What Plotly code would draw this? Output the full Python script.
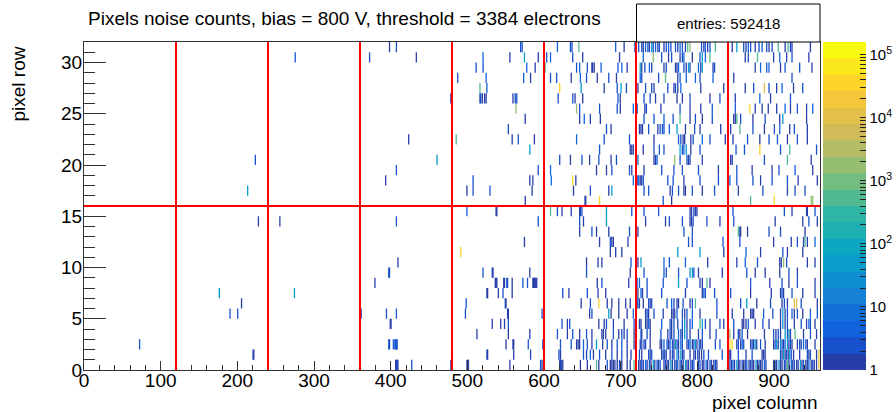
import numpy as np
import plotly.graph_objects as go

# ---------------- data ----------------
title_text = "Pixels noise counts, bias = 800 V, threshold = 3384 electrons"
entries_total = 592418
n_columns = 960
n_rows = 32
x_tick_step = 100
y_tick_step = 5
sector_edges_x = [120, 240, 360, 480, 600, 720, 840]
sector_edges_y = [16]
z_max = 1.6e5
cbar_major = [1, 10, 100, 1000, 10000, 100000]
cbar_labels = ["1", "10", "10<sup>2</sup>", "10<sup>3</sup>", "10<sup>4</sup>", "10<sup>5</sup>"]

# hit pixels per row: (column, counts)
row_31 = [(398,1),(407,2),(569,2),(571,2),(600,1),(617,5),(634,2),(636,2),(645,400),(693,5),(704,1),(718,5),(723,2),(727,2),(729,1),(732,5),(735,2),(737,1),(740,50),(742,2),(745,5),(748,1),(750,2),(756,1),(759,2),(762,5),(765,2),(771,2),(774,1),(777,5),(780,2),(784,1),(787,400),(790,2000),(805,2),(808,1),(810,5),(813,1),(816,2),(823,400),(845,1),(851,50),(860,2),(863,1),(866,5),(869,2),(875,1),(880,2),(884,5),(890,2),(893,1),(897,2),(905,400),(914,1),(918,400),(921,2),(923,1),(947,1)]
row_30 = [(275,2),(372,2),(433,1),(520,5),(555,1),(574,50),(592,1),(603,2),(608,5),(637,2),(650,1),(698,1),(720,1),(729,5),(742,2000),(753,2),(762,1),(766,2),(777,1),(780,2),(782,5),(793,1),(803,2),(806,50),(810,5),(816,400),(862,1),(866,2),(878,400),(899,1),(907,5),(916,1),(923,2),(945,1)]
row_29 = [(511,2),(520,2),(577,5),(588,1),(601,400),(642,2),(646,5),(656,2),(662,1),(663,1),(665,1),(674,5),(696,2),(701,5),(708,1),(725,50),(727,1),(731,2),(737,5),(740,1),(756,1),(759,2),(771,1),(773,1),(775,5),(782,2),(785,1),(788,50),(790,2),(801,5),(804,1),(806,50),(820,1),(822,2),(875,1),(882,5),(890,2),(893,5),(908,1),(914,2),(933,2),(949,1)]
row_28 = [(487,2),(524,5),(573,5),(582,1),(608,2),(616,2),(635,1),(647,5),(655,2),(669,1),(684,2),(694,1),(719,2),(725,5),(727,2),(749,2),(758,400),(774,1),(777,2),(785,5),(797,5),(803,2),(820,5),(847,1),(923,2)]
row_27 = [(516,400),(525,5),(620,30000),(648,50),(678,1),(695,2),(700,50),(707,2),(722,1),(732,2),(740,2),(743,1),(761,2),(769,1),(771,2),(774,1),(778,5),(804,1),(834,1),(862,1),(873,2),(887,8000),(893,2),(903,1),(910,5),(925,1),(937,2)]
row_26 = [(478,1),(516,1),(517,2),(519,1),(522,1),(524,1),(559,1),(562,2),(564,2),(618,2),(637,2),(640,1),(650,1),(696,2),(699,1),(719,1),(730,2),(738,2),(745,1),(756,2),(773,1),(780,1),(790,2),(816,1),(829,2),(849,1),(881,5),(895,1),(921,2)]
row_25 = [(563,2000),(642,2000),(646,2),(672,2),(695,2),(699,1),(716,5),(721,2),(731,1),(733,2),(752,1),(777,2),(790,1),(804,1),(819,5),(849,2),(868,30000),(875,1),(884,1),(892,1),(903,1),(914,5),(921,1),(930,2),(942,1),(950,5)]
row_24 = [(575,1),(646,1),(652,5),(660,1),(673,1),(719,2),(730,2),(743,2),(756,5),(768,2),(777,400),(790,1),(797,2),(806,1),(819,2),(847,1),(849,1),(851,400),(856,2),(872,1),(888,2),(907,1),(911,50),(942,1)]
row_23 = [(553,2),(681,2),(687,1),(724,1),(726,1),(728,1),(736,2),(748,1),(751,2),(754,2),(756,2),(763,5),(773,50),(784,1),(796,2),(803,1),(830,1),(843,1),(855,400),(872,2),(887,1),(900,2),(907,5),(920,1),(926,2),(943,1)]
row_22 = [(423,1),(485,400),(558,1),(566,2),(587,1),(642,5),(678,2),(711,2),(719,1),(743,1),(775,2),(778,2),(781,1),(783,1),(791,1),(794,2),(806,5),(816,2),(836,1),(846,1),(865,2),(881,1),(893,2),(904,2),(917,1),(930,2),(943,1)]
row_21 = [(581,50),(672,2),(712,1),(714,1),(716,1),(719,2),(729,1),(743,2),(750,2),(756,2),(777,50),(780,2),(782,5),(785,50),(791,1),(803,2),(839,1),(850,2),(861,2),(881,30000),(908,2),(920,400),(955,2)]
row_20 = [(223,2),(460,50),(620,2),(634,1),(649,2),(659,1),(671,2),(687,1),(694,2),(722,5),(743,1),(745,1),(747,5),(770,2000),(777,2),(786,2),(788,1),(790,2),(806,1),(843,1),(845,1),(887,2),(917,400),(948,1)]
row_19 = [(407,2),(592,2),(608,5),(668,1),(681,1),(688,2),(711,2),(714,1),(730,1),(753,2),(769,2),(780,2),(801,2),(827,1),(851,2),(871,1),(897,1),(906,2),(927,5),(950,1)]
row_18 = [(393,1),(507,2),(581,1),(585,1),(609,5),(637,30000),(641,1),(716,5),(719,1),(721,1),(723,5),(725,1),(727,1),(729,2),(761,2),(768,2),(782,1),(803,2),(827,2),(842,5),(851,2),(872,2),(882,1),(897,2),(917,2),(931,1),(956,1)]
row_17 = [(213,50),(499,1),(507,2),(529,2),(584,1),(638,1),(660,2),(684,1),(688,50),(719,1),(730,2),(736,2),(764,1),(767,2),(775,2),(782,1),(784,1),(793,2),(806,1),(822,2),(853,1),(885,2),(917,1),(927,2),(940,2)]
row_16 = [(575,1),(653,1),(654,1),(672,30000),(719,1),(755,2),(766,1),(869,400),(900,30000),(948,2000),(950,2000)]
row_15 = [(499,5),(537,1),(538,1),(608,400),(617,2),(623,1),(635,1),(646,2),(647,1),(649,2),(681,50),(714,2),(720,1),(730,2),(749,2),(790,1),(792,1),(795,2),(797,1),(799,1),(846,2),(913,2),(923,1),(942,1),(943,1),(953,2)]
row_14 = [(227,1),(255,1),(407,2),(592,2),(646,2),(651,1),(681,50),(732,1),(758,1),(763,2),(780,2),(790,1),(792,1),(794,2),(812,2),(829,1),(847,2),(901,1),(937,1),(945,2),(956,1)]
row_13 = [(646,1),(662,2),(668,1),(684,1),(711,2),(722,1),(782,2),(793,2),(853,400),(855,1),(856,1),(865,1),(893,2),(908,2),(940,1)]
row_12 = [(574,1),(672,1),(686,2),(688,1),(690,1),(709,1),(788,2),(793,2),(833,2),(839,1),(855,2),(899,1),(922,1),(930,2),(938,1),(940,400),(943,1),(953,5)]
row_11 = [(491,30000),(686,1),(693,1),(701,1),(774,50),(803,50),(834,1),(863,5),(882,1),(911,2),(917,1),(937,1)]
row_10 = [(409,1),(655,1),(670,1),(675,1),(713,2),(722,1),(726,50),(756,5),(763,2),(784,5),(813,1),(851,1),(862,5),(878,2),(907,1),(909,1),(912,2000),(916,2),(943,1),(953,1)]
row_09 = [(397,2),(398,2),(520,2),(532,2),(533,1),(581,1),(655,2),(712,1),(719,1),(730,2),(756,2),(759,2),(775,2),(790,50),(793,50),(795,2),(801,1),(832,1),(864,2),(875,1),(888,1),(907,1),(919,2),(930,1)]
row_08 = [(379,1),(536,1),(537,1),(538,1),(547,1),(548,1),(551,2),(552,2),(558,1),(572,2),(578,2),(585,1),(586,1),(587,1),(588,1),(589,1),(590,1),(669,1),(675,2),(710,1),(721,5),(724,5),(734,2),(755,2),(775,50),(786,2),(803,1),(806,1),(812,400),(816,1),(839,1),(869,2),(894,1),(910,2),(919,1),(930,2),(953,1)]
row_07 = [(176,50),(274,50),(525,1),(526,1),(540,1),(546,2),(558,1),(624,2),(632,1),(656,2),(670,1),(680,1),(719,1),(722,1),(726,5),(728,1),(734,2),(753,2),(784,1),(806,1),(808,5),(810,2),(822,2),(839,2),(843,2),(869,1),(896,1),(908,1),(910,2),(912,1),(923,2),(937,1),(953,1)]
row_06 = [(205,1),(498,2),(549,2),(550,1),(648,1),(660,2),(671,30000),(682,1),(688,1),(697,1),(706,1),(712,1),(719,1),(721,1),(722,5),(724,1),(729,1),(736,2),(738,1),(740,2),(760,2),(766,5),(769,2),(773,1),(775,1),(781,2),(790,1),(793,2),(797,400),(825,2),(840,1),(856,2),(864,50),(877,1),(895,2),(910,1),(913,2),(917,1),(926,8000),(929,8000),(935,2),(956,1)]
row_05 = [(190,2),(200,2),(361,1),(394,2),(407,2),(497,2),(552,1),(553,1),(597,2),(659,1),(662,2),(684,50),(687,1),(697,1),(708,1),(716,5),(720,1),(732,1),(734,2),(736,1),(743,2),(755,1),(766,1),(768,1),(770,1),(773,5),(780,2),(783,1),(786,2),(793,5),(803,1),(825,2),(845,1),(860,1),(869,1),(871,1),(873,1),(886,5),(898,2),(908,1),(911,50),(914,1),(917,2),(923,5),(926,1),(930,2),(937,1),(947,5),(956,2)]
row_04 = [(399,1),(400,1),(532,1),(543,1),(548,1),(553,2),(623,2),(630,1),(633,2),(671,1),(678,1),(681,2),(690,1),(704,1),(717,2),(724,1),(726,1),(732,1),(734,1),(736,5),(738,1),(753,5),(764,2),(766,1),(769,2),(774,1),(780,2),(783,50),(786,1),(790,2),(793,5),(803,400),(806,50),(810,2),(816,1),(829,2),(834,1),(847,2),(858,1),(860,1),(863,1),(866,5),(875,1),(885,2),(893,1),(908,1),(911,50),(914,1),(917,2),(926,1),(935,2),(942,1),(945,5),(947,2),(953,1)]
row_03 = [(512,1),(553,1),(581,1),(617,2),(630,1),(637,2),(646,1),(655,2),(662,1),(675,1),(677,1),(680,1),(690,2),(697,1),(701,2),(704,1),(708,2),(717,1),(726,5),(727,1),(734,2),(738,1),(752,2),(761,1),(764,2),(766,1),(769,2),(775,5),(778,2),(780,1),(783,50),(786,2),(790,1),(801,1),(806,2),(816,1),(824,2),(842,2000),(847,1),(853,2),(855,1),(858,2),(865,1),(887,1),(899,2),(902,1),(905,2),(908,1),(914,50),(917,2),(919,50),(921,1),(927,400),(938,1),(947,2),(955,1)]
row_02 = [(72,2),(397,2),(398,2),(403,5),(405,1),(406,5),(407,5),(408,2),(550,1),(559,1),(560,1),(579,2),(598,2),(621,2),(635,2),(642,1),(644,1),(646,1),(651,5),(656,2),(662,1),(668,50),(676,1),(682,2),(688,1),(695,2),(701,2),(708,1),(717,1),(720,1),(725,1),(727,2),(730,1),(732,2),(738,1),(751,1),(753,1),(756,5),(760,2),(762,1),(764,5),(767,2),(769,1),(771,50),(773,2),(775,1),(778,5),(780,2),(786,1),(788,2),(790,5),(793,1),(795,2),(797,50),(799,1),(802,2),(804,1),(806,2),(823,2),(829,2),(842,30000),(845,30000),(851,1),(853,2),(856,1),(858,5),(860,2),(869,1),(871,2),(873,1),(875,50),(877,1),(882,2),(888,1),(899,1),(901,2),(903,50),(905,1),(908,50),(910,2),(912,1),(914,5),(917,50),(919,1),(921,2),(923,1),(930,1),(933,2),(935,1),(938,5),(941,2),(943,1),(953,1)]
row_01 = [(220,1),(221,1),(525,2),(526,1),(560,1),(582,1),(619,2),(621,1),(651,2),(655,1),(660,5),(664,1),(672,2),(680,1),(688,2),(695,1),(701,2),(708,1),(713,1),(724,2),(727,1),(736,2),(738,1),(740,2),(753,1),(755,2),(757,1),(759,2),(764,1),(767,2),(769,1),(773,50),(775,2),(778,50),(780,1),(782,2),(790,1),(795,1),(797,1),(800,2),(802,1),(805,1),(808,2),(814,2),(832,2),(839,1),(841,1),(843,1),(853,2),(863,1),(871,2),(884,1),(886,1),(888,1),(908,2),(910,1),(912,50),(914,1),(916,2),(918,1),(920,50),(922,2),(925,1),(933,1),(943,2),(945,1),(947,2),(955,1),(958,8000)]
row_00 = [(406,1),(407,1),(408,2),(409,1),(427,2),(478,1),(499,1),(500,1),(501,1),(555,1),(595,2),(597,1),(620,1),(621,2),(622,1),(624,1),(647,1),(656,1),(668,400),(671,1),(682,2),(686,1),(688,1),(690,1),(692,1),(695,1),(698,2),(701,1),(708,1),(712,1),(717,400),(720,2),(723,1),(725,1),(727,2),(729,1),(732,5),(734,1),(737,2),(739,1),(742,50),(744,1),(747,2),(749,1),(751,5),(756,1),(758,2),(760,1),(762,1),(765,50),(767,1),(770,2),(772,1),(774,5),(777,1),(779,2),(781,1),(784,50),(786,1),(788,1),(791,2),(793,1),(795,5),(801,1),(803,2),(806,1),(808,1),(811,5),(813,1),(816,2),(818,1),(821,1),(823,2),(825,1),(840,1),(842,2),(844,1),(846,5),(848,1),(851,50),(853,1),(855,1),(858,2),(860,1),(862,1),(864,5),(867,1),(869,2),(871,1),(873,1),(876,50),(878,1),(880,2),(882,1),(884,1),(887,5),(889,1),(899,1),(901,2),(903,1),(906,50),(908,1),(910,1),(913,2),(915,1),(917,400),(919,1),(922,5),(924,1),(926,2),(929,1),(931,1),(934,50),(936,1),(938,2),(941,1),(943,1),(945,5),(948,1),(950,2),(952,1),(955,1),(958,8000)]

rows = [row_00, row_01, row_02, row_03, row_04, row_05, row_06, row_07, row_08, row_09,
        row_10, row_11, row_12, row_13, row_14, row_15, row_16, row_17, row_18, row_19,
        row_20, row_21, row_22, row_23, row_24, row_25, row_26, row_27, row_28, row_29,
        row_30, row_31]

# ---------------- palette (ROOT kBird, 20 contour bands) ----------------
bird_stops = [0.0, 0.125, 0.25, 0.375, 0.5, 0.625, 0.75, 0.875, 1.0]
bird_r = [0.2082, 0.0592, 0.0780, 0.0232, 0.1802, 0.5301, 0.8186, 0.9956, 0.9764]
bird_g = [0.1664, 0.3599, 0.5041, 0.6419, 0.7178, 0.7492, 0.7328, 0.7862, 0.9832]
bird_b = [0.5293, 0.8684, 0.8385, 0.7914, 0.6425, 0.4662, 0.3499, 0.1968, 0.0539]
n_bands = 20
scale = []
for i in range(n_bands):
    f = min(int((i + 0.99) * 255 / n_bands) / 254.0, 1.0)
    r = int(round(255 * np.interp(f, bird_stops, bird_r)))
    g = int(round(255 * np.interp(f, bird_stops, bird_g)))
    b = int(round(255 * np.interp(f, bird_stops, bird_b)))
    col = f"rgb({r},{g},{b})"
    scale.append([i / n_bands, col])
    scale.append([(i + 1) / n_bands, col])

xs, ys, zs = [], [], []
for r_idx, hits in enumerate(rows):
    for c, cnt in hits:
        xs.append(c + 0.5)
        ys.append(r_idx + 0.5)
        zs.append(np.log10(cnt))

zmax_log = np.log10(z_max)
cb_vals, cb_text = [], []
for k, v in enumerate(cbar_major):
    cb_vals.append(np.log10(v))
    cb_text.append(cbar_labels[k])
    if v < 100000:
        for m in range(2, 10):
            cb_vals.append(np.log10(v * m))
            cb_text.append("")

FONT = "Liberation Sans, Arial, Helvetica, sans-serif"
W, H = 896, 412
L, R, T, B = 84, 76, 42, 42
pw = W - L - R
ph = H - T - B

fig = go.Figure()
fig.add_trace(go.Scatter(
    x=xs, y=ys, mode="markers", hoverinfo="skip",
    marker=dict(
        symbol="line-ns-open", size=7.3, color=zs,
        colorscale=scale, cmin=0, cmax=zmax_log,
        line=dict(width=1.3),
        colorbar=dict(
            x=(823 - L) / pw, xanchor="left", xpad=0, ypad=0,
            y=0.5, yanchor="middle", len=1, lenmode="fraction",
            thickness=43, thicknessmode="pixels", outlinewidth=0,
            ticks="inside", ticklen=6, tickcolor="#222", tickwidth=1,
            tickmode="array", tickvals=cb_vals, ticktext=cb_text,
            tickfont=dict(family=FONT, size=15, color="black"),
        ),
    ),
    showlegend=False,
))

shapes = []
for xv in sector_edges_x:
    shapes.append(dict(type="line", xref="x", yref="y", x0=xv, x1=xv, y0=0, y1=n_rows,
                       line=dict(color="#ff0000", width=2)))
for yv in sector_edges_y:
    shapes.append(dict(type="line", xref="x", yref="y", x0=0, x1=n_columns, y0=yv, y1=yv,
                       line=dict(color="#ff0000", width=2)))
# stats box
shapes.append(dict(type="rect", xref="paper", yref="paper",
                   x0=(636.5 - L) / pw, x1=1.0, y0=1.0, y1=(H - B - 4) / ph,
                   line=dict(color="black", width=1), fillcolor="white"))

annotations = [
    dict(text=f"entries: {entries_total}", xref="paper", yref="paper",
         x=(728 - L) / pw, y=(H - B - 23) / ph, xanchor="center", yanchor="middle",
         showarrow=False, font=dict(family=FONT, size=15, color="black")),
    dict(text="pixel column", xref="paper", yref="paper", x=1.0, xanchor="right",
         y=-(402 - (H - B)) / ph, yanchor="middle", showarrow=False,
         font=dict(family=FONT, size=19, color="black")),
    dict(text="pixel row", xref="paper", yref="paper", x=(18 - L) / pw, xanchor="center",
         y=1 - (45 - T) / ph, yanchor="top", textangle=-90, showarrow=False,
         font=dict(family=FONT, size=19, color="black")),
]

fig.update_layout(
    width=W, height=H,
    margin=dict(l=L, r=R, t=T, b=B, autoexpand=False),
    paper_bgcolor="white", plot_bgcolor="white",
    font=dict(family=FONT, color="black"),
    title=dict(text=title_text, xref="container", yref="container",
               x=88 / W, xanchor="left", y=1 - 18 / H, yanchor="middle",
               font=dict(family=FONT, size=19, color="black")),
    xaxis=dict(range=[0, n_columns], tickmode="linear", tick0=0, dtick=x_tick_step,
               ticks="inside", ticklen=9.5, tickwidth=1, tickcolor="#333",
               ticklabelstandoff=-7,
               minor=dict(tickmode="linear", tick0=0, dtick=20, ticks="inside",
                          ticklen=5, tickwidth=1, tickcolor="#333", showgrid=False),
               showline=True, linecolor="#333", linewidth=1, mirror=True,
               showgrid=False, zeroline=False,
               tickfont=dict(family=FONT, size=19, color="black")),
    yaxis=dict(range=[0, n_rows], tickmode="linear", tick0=0, dtick=y_tick_step,
               ticks="inside", ticklen=22, tickwidth=1, tickcolor="#333",
               ticklabelstandoff=-3,
               minor=dict(tickmode="linear", tick0=0, dtick=1, ticks="inside",
                          ticklen=11, tickwidth=1, tickcolor="#333", showgrid=False),
               showline=True, linecolor="#333", linewidth=1, mirror=True,
               showgrid=False, zeroline=False,
               tickfont=dict(family=FONT, size=19, color="black")),
    shapes=shapes,
    annotations=annotations,
)

fig.write_html("out.html")
